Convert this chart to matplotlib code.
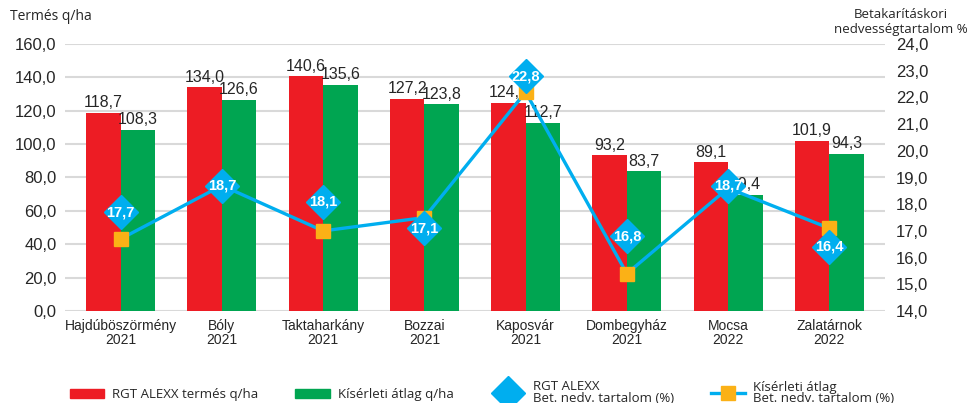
import matplotlib
matplotlib.use("Agg")
import matplotlib.pyplot as plt
import numpy as np
from matplotlib.lines import Line2D
from matplotlib.patches import Patch

plt.rcParams['font.family'] = ['Liberation Sans Narrow', 'Liberation Sans', 'DejaVu Sans']

helyszin = ["Hajdúböszörmény\n2021", "Bóly\n2021", "Taktaharkány\n2021", "Bozzai\n2021",
            "Kaposvár\n2021", "Dombegyház\n2021", "Mocsa\n2022", "Zalatárnok\n2022"]
alexx_termes = [118.7, 134.0, 140.6, 127.2, 124.5, 93.2, 89.1, 101.9]
atlag_termes = [108.3, 126.6, 135.6, 123.8, 112.7, 83.7, 69.4, 94.3]
alexx_nedv = [17.7, 18.7, 18.1, 17.1, 22.8, 16.8, 18.7, 16.4]
atlag_nedv = [16.7, 18.7, 17.0, 17.5, 22.2, 15.4, 18.6, 17.1]

RED = "#ED1C24"
GREEN = "#00A551"
BLUE = "#00AEEF"
ORANGE = "#FBB116"
TXT = "#262626"

def fmt(v):
    return f"{v:.1f}".replace(".", ",")

fig = plt.figure(figsize=(9.74, 4.03), dpi=100)
ax = fig.add_axes([65/974, 1-311/403, 820/974, 267/403])
x = np.arange(len(helyszin))
w = 0.34

b1 = ax.bar(x - w/2, alexx_termes, w, color=RED, zorder=2)
b2 = ax.bar(x + w/2, atlag_termes, w, color=GREEN, zorder=2)
for bars, vals in ((b1, alexx_termes), (b2, atlag_termes)):
    for r, v in zip(bars, vals):
        ax.annotate(fmt(v), (r.get_x() + r.get_width()/2, v), xytext=(0, 2),
                    textcoords="offset points", ha="center", va="bottom",
                    fontsize=11.5, color=TXT, zorder=3)

ax.set_ylim(0, 160)
ax.set_yticks(np.arange(0, 161, 20))
ax.set_yticklabels([fmt(v) for v in np.arange(0, 161, 20)], fontsize=12, color=TXT)
ax.set_xlim(-0.55, len(helyszin) - 0.45)
ax.set_xticks(x)
ax.set_xticklabels(helyszin, fontsize=10, color=TXT, linespacing=0.95)
ax.grid(axis="y", color="#D9D9D9", linewidth=1.5, zorder=0)
ax.tick_params(length=0, pad=6)
for s in ax.spines.values():
    s.set_visible(False)

ax2 = ax.twinx()
ax2.set_ylim(14, 24)
ax2.set_yticks(np.arange(14, 25, 1))
ax2.set_yticklabels([fmt(v) for v in np.arange(14, 25, 1)], fontsize=12, color=TXT)
ax2.tick_params(length=0, pad=8)
for s in ax2.spines.values():
    s.set_visible(False)

ax2.plot(x, atlag_nedv, color=BLUE, linewidth=2.4, marker="s", markersize=10,
         markerfacecolor=ORANGE, markeredgecolor=ORANGE, zorder=3)
ax2.plot(x, alexx_nedv, linestyle="none", marker="D", markersize=17,
         markerfacecolor=BLUE, markeredgecolor=BLUE, zorder=4)
for xi, v in zip(x, alexx_nedv):
    ax2.text(xi, v, fmt(v), ha="center", va="center", fontsize=10.5,
             fontweight="bold", color="white", family=['Liberation Sans', 'DejaVu Sans'], zorder=5)

fig.text(10/974, 1-17/403, "Termés q/ha", fontsize=10, color=TXT, va="center",
         family=['Open Sans', 'DejaVu Sans'])
fig.text(968/974, 1-22/403, "Betakarításkori\nnedvességtartalom %", fontsize=9.5,
         color=TXT, ha="right", va="center", multialignment="center",
         family=['Open Sans', 'DejaVu Sans'], linespacing=1.1)

handles = [
    Patch(color=RED),
    Patch(color=GREEN),
    Line2D([], [], linestyle="none", marker="D", markersize=17, color=BLUE),
    Line2D([], [], color=BLUE, linewidth=2.4, marker="s", markersize=10,
           markerfacecolor=ORANGE, markeredgecolor=ORANGE),
]
labels = ["RGT ALEXX termés q/ha", "Kísérleti átlag q/ha",
          "RGT ALEXX\nBet. nedv. tartalom (%)", "Kísérleti átlag\nBet. nedv. tartalom (%)"]
leg = fig.legend(handles, labels, loc="center", bbox_to_anchor=(0.495, 1-393/403), ncol=4,
                 frameon=False, handlelength=2.6, columnspacing=2.8, handletextpad=0.6,
                 prop={'family': ['Open Sans', 'DejaVu Sans'], 'size': 9.5})
for t in leg.get_texts():
    t.set_color(TXT)
    t.set_linespacing(0.9)

fig.savefig("out.png", dpi=100)
